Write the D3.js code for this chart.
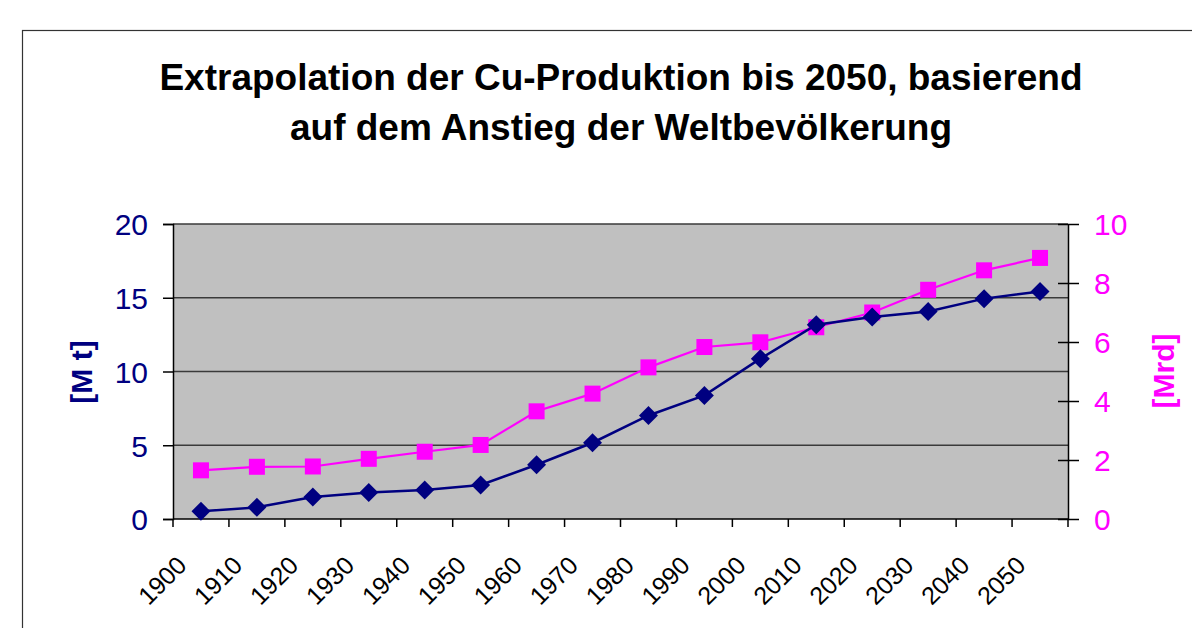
<!DOCTYPE html>
<html><head><meta charset="utf-8">
<script src="https://cdn.jsdelivr.net/npm/d3@7"></script>
<style>html,body{margin:0;padding:0;background:#fff;}svg{display:block;font-family:"Liberation Sans",Arial,sans-serif;}</style>
</head><body>
<svg id="c" width="1192" height="628"></svg>
<script>
const years = ["1900","1910","1920","1930","1940","1950","1960","1970","1980","1990","2000","2010","2020","2030","2040","2050"];
const copperMt = [0.52,0.79,1.49,1.80,1.97,2.31,3.68,5.17,7.02,8.38,10.87,13.17,13.69,14.07,14.94,15.43];
const populationMrd = [1.65,1.77,1.78,2.04,2.28,2.51,3.65,4.25,5.14,5.83,5.99,6.50,7.00,7.77,8.43,8.85];
const leftTicks = [0,5,10,15,20];
const rightTicks = [0,2,4,6,8,10];
const titleLines = ["Extrapolation der Cu-Produktion bis 2050, basierend","auf dem Anstieg der Weltbevölkerung"];

const svg = d3.select("#c");
const L=173,R=1068,T=224,B=519;
const navy="#000080", mag="#ff00ff";

svg.append("rect").attr("x",22.5).attr("y",30.5).attr("width",1300).attr("height",800)
  .attr("fill","none").attr("stroke","#333").attr("stroke-width",1.2);

svg.selectAll("text.title").data(titleLines).join("text").attr("class","title")
  .attr("x",621).attr("y",(d,i)=>90+i*50).attr("text-anchor","middle")
  .attr("font-size",37).attr("font-weight","bold").attr("fill","#000").text(d=>d);

const x = d3.scaleBand().domain(years).range([L,R]).padding(0);
const yL = d3.scaleLinear().domain([0,20]).range([B,T]);
const yR = d3.scaleLinear().domain([0,10]).range([B,T]);

svg.append("rect").attr("x",L).attr("y",T).attr("width",R-L).attr("height",B-T).attr("fill","#c0c0c0");

svg.append("g").selectAll("line").data(leftTicks.filter(d=>d>0)).join("line")
  .attr("x1",L).attr("x2",R).attr("y1",d=>yL(d)).attr("y2",d=>yL(d))
  .attr("stroke","#3a3a3a").attr("stroke-width",1.5);

// left axis
const gl = svg.append("g").attr("transform",`translate(${L},0)`)
  .call(d3.axisLeft(yL).tickValues(leftTicks).tickSize(10).tickPadding(15));
gl.select(".domain").attr("stroke","#000").attr("stroke-width",1.5);
gl.selectAll(".tick line").attr("stroke","#000").attr("stroke-width",1.5);
gl.selectAll(".tick text").attr("fill",navy).attr("font-size",30).attr("font-family","Liberation Sans, Arial, sans-serif").attr("dy","0.36em");

// right axis
const gr = svg.append("g").attr("transform",`translate(${R},0)`)
  .call(d3.axisRight(yR).tickValues(rightTicks).tickSizeInner(11).tickSizeOuter(0).tickPadding(15));
gr.select(".domain").attr("stroke","#000").attr("stroke-width",1.5);
gr.selectAll(".tick line").attr("x1",-10).attr("stroke","#000").attr("stroke-width",1.5);
gr.selectAll(".tick text").attr("fill",mag).attr("font-size",30).attr("font-family","Liberation Sans, Arial, sans-serif").attr("dy","0.36em");

// bottom axis
const gb = svg.append("g").attr("transform",`translate(0,${B})`);
gb.append("line").attr("x1",L).attr("x2",R).attr("stroke","#000").attr("stroke-width",1.5);
const bounds = years.map(d=>x(d)).concat([R]);
gb.selectAll("line.tk").data(bounds).join("line").attr("class","tk")
  .attr("x1",d=>d).attr("x2",d=>d).attr("y1",0).attr("y2",8).attr("stroke","#000").attr("stroke-width",1.5);
svg.append("g").selectAll("text").data(years).join("text")
  .attr("transform",d=>`translate(${x(d)+x.bandwidth()/2-13},567) rotate(-45)`)
  .attr("text-anchor","end").attr("font-size",25).attr("fill","#000").text(d=>d);

// axis titles
svg.append("text").attr("transform","translate(92,372) rotate(-90)").attr("text-anchor","middle")
  .attr("font-size",30).attr("font-weight","bold").attr("fill",navy).text("[M t]");
svg.append("text").attr("transform","translate(1174,371) rotate(-90)").attr("text-anchor","middle")
  .attr("font-size",30).attr("font-weight","bold").attr("fill",mag).text("[Mrd]");

const cx = d=>x(d)+x.bandwidth()/2;
// population line
svg.append("path").datum(populationMrd.map((v,i)=>[cx(years[i]),yR(v)]))
  .attr("d",d3.line()).attr("fill","none").attr("stroke",mag).attr("stroke-width",2.2);
svg.append("g").selectAll("rect").data(populationMrd).join("rect")
  .attr("x",(d,i)=>cx(years[i])-8).attr("y",d=>yR(d)-8).attr("width",16).attr("height",16).attr("fill",mag);

// copper line
svg.append("path").datum(copperMt.map((v,i)=>[cx(years[i]),yL(v)]))
  .attr("d",d3.line()).attr("fill","none").attr("stroke",navy).attr("stroke-width",2.5);
svg.append("g").selectAll("path.dm").data(copperMt).join("path").attr("class","dm")
  .attr("d",d3.symbol().type(d3.symbolDiamond2).size(230))
  .attr("transform",(d,i)=>`translate(${cx(years[i])},${yL(d)})`).attr("fill",navy);
</script>
</body></html>
